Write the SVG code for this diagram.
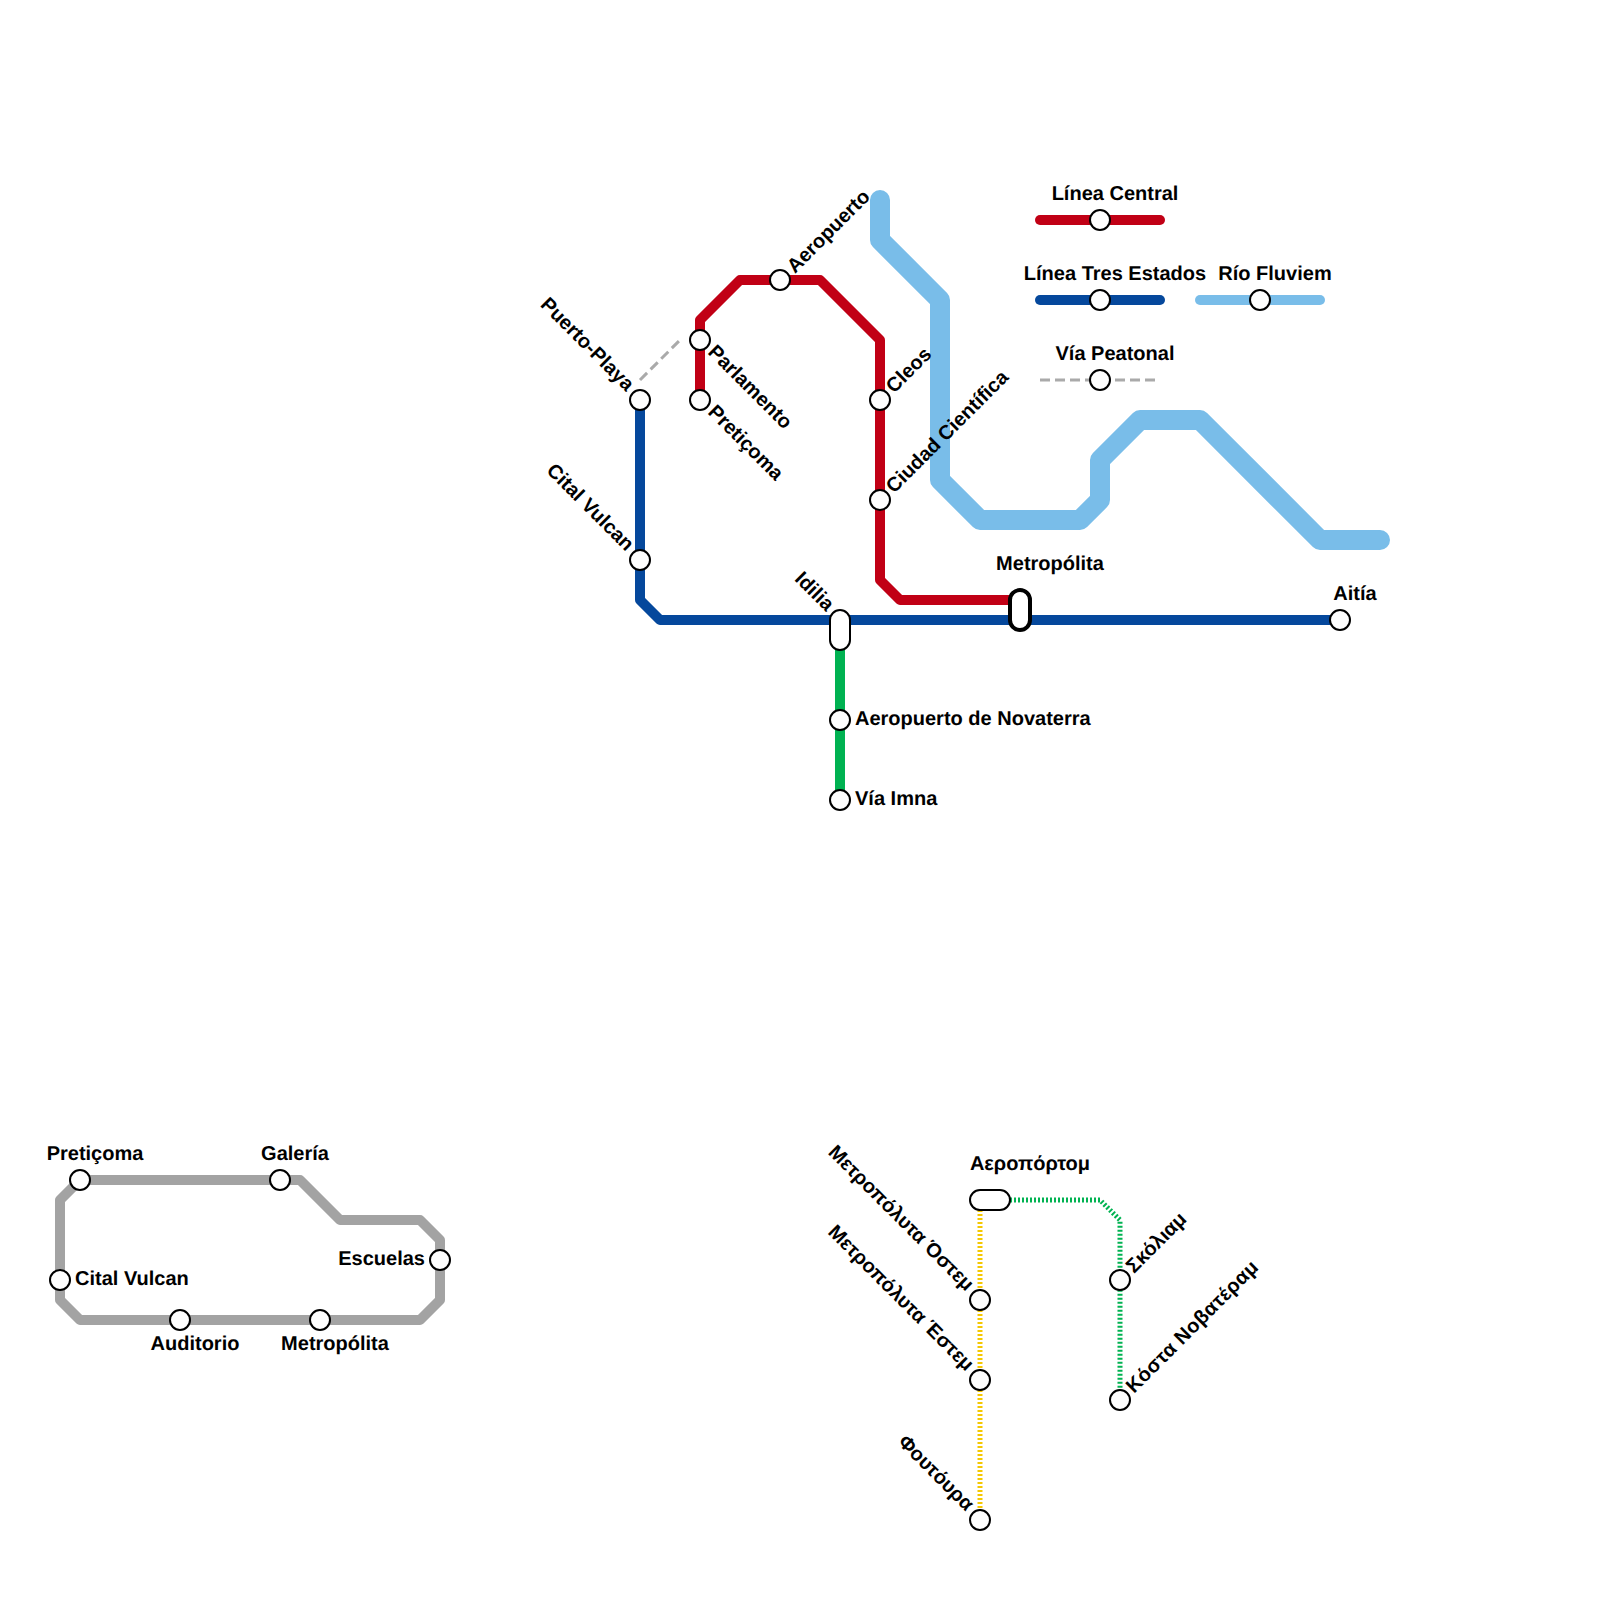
<svg xmlns="http://www.w3.org/2000/svg" width="1600" height="1600" viewBox="0 0 1600 1600">
<style>
.l{fill:none;stroke-linejoin:round}
.c{stroke-linecap:round}
.red{stroke:#c10015;stroke-width:10}
.blue{stroke:#05489c;stroke-width:10}
.green{stroke:#00b251;stroke-width:10}
.river{stroke:#79bde9;stroke-width:20;stroke-linecap:round}
.riverleg{stroke:#79bde9;stroke-width:10}
.grey{stroke:#a3a3a3;stroke-width:10}
.walk{stroke:#aaaaaa;stroke-width:3;stroke-dasharray:10 5}
.dotg{stroke:#00b251;stroke-width:5;stroke-dasharray:2 2}
.doty{stroke:#f5c800;stroke-width:5;stroke-dasharray:2 2}
.s{fill:#fff;stroke:#000;stroke-width:2}
.b{fill:#fff;stroke:#000;stroke-width:4}
text{font-family:"Liberation Sans",Arial,sans-serif;font-weight:bold;font-size:20px;fill:#000;text-rendering:geometricPrecision}
.m{text-anchor:middle}
.e{text-anchor:end}
</style>
<g id="connectors">
<path class="l river" d="M880 200V240L940 300V480L980 520H1080L1100 500V460L1140 420H1200L1320 540H1380"/>
<path class="l red" d="M700 400V320L740 280H820L880 340V580L900 600H1020"/>
<path class="l blue" d="M640 400V600L660 620H1340"/>
<path class="l green" d="M840 640V800"/>
<path class="l walk" d="M640 380L680 340"/>
<path class="l grey" d="M80 1180L60 1200V1300L80 1320H420L440 1300V1240L420 1220H340L300 1180Z"/>
<path class="l doty" d="M980 1210V1520"/>
<path class="l dotg" d="M1010 1200H1100L1120 1220V1400"/>
<path class="l c red" d="M1040 220H1160"/>
<path class="l c blue" d="M1040 300H1160"/>
<path class="l c riverleg" d="M1200 300H1320"/>
<path class="l walk" d="M1040 380H1160"/>
</g>
<g id="n-puerto-playa"><circle class="s" cx="640" cy="400" r="10"/><text class="e" transform="translate(626 392) rotate(45)">Puerto-Playa</text></g>
<g id="n-cital-vulcan"><circle class="s" cx="640" cy="560" r="10"/><text class="e" transform="translate(626 552) rotate(45)">Cital Vulcan</text></g>
<g id="n-parlamento"><circle class="s" cx="700" cy="340" r="10"/><text transform="translate(707 353) rotate(45)">Parlamento</text></g>
<g id="n-preticoma"><circle class="s" cx="700" cy="400" r="10"/><text transform="translate(707 413) rotate(45)">Pretiçoma</text></g>
<g id="n-aeropuerto"><circle class="s" cx="780" cy="280" r="10"/><text transform="translate(795 274) rotate(-45)">Aeropuerto</text></g>
<g id="n-cleos"><circle class="s" cx="880" cy="400" r="10"/><text transform="translate(894 394) rotate(-45)">Cleos</text></g>
<g id="n-ciudad"><circle class="s" cx="880" cy="500" r="10"/><text transform="translate(894 494) rotate(-45)">Ciudad Científica</text></g>
<g id="n-idilia"><rect class="s" x="830" y="610" width="20" height="40" rx="10"/><text class="e" transform="translate(826 612) rotate(45)">Idilia</text></g>
<g id="n-metropolita"><rect class="b" x="1010" y="590" width="20" height="40" rx="10"/><text class="m" x="1050" y="570">Metropólita</text></g>
<g id="n-aitia"><circle class="s" cx="1340" cy="620" r="10"/><text class="m" x="1355" y="600">Aitía</text></g>
<g id="n-novaterra"><circle class="s" cx="840" cy="720" r="10"/><text x="855" y="725">Aeropuerto de Novaterra</text></g>
<g id="n-via-imna"><circle class="s" cx="840" cy="800" r="10"/><text x="855" y="805">Vía Imna</text></g>
<g id="leg-central"><circle class="s" cx="1100" cy="220" r="10"/><text class="m" x="1115" y="200">Línea Central</text></g>
<g id="leg-tres"><circle class="s" cx="1100" cy="300" r="10"/><text class="m" x="1115" y="280">Línea Tres Estados</text></g>
<g id="leg-rio"><circle class="s" cx="1260" cy="300" r="10"/><text class="m" x="1275" y="280">Río Fluviem</text></g>
<g id="leg-via"><circle class="s" cx="1100" cy="380" r="10"/><text class="m" x="1115" y="360">Vía Peatonal</text></g>
<g id="g-preticoma"><circle class="s" cx="80" cy="1180" r="10"/><text class="m" x="95" y="1160">Pretiçoma</text></g>
<g id="g-galeria"><circle class="s" cx="280" cy="1180" r="10"/><text class="m" x="295" y="1160">Galería</text></g>
<g id="g-escuelas"><circle class="s" cx="440" cy="1260" r="10"/><text class="e" x="425" y="1265">Escuelas</text></g>
<g id="g-cital"><circle class="s" cx="60" cy="1280" r="10"/><text x="75" y="1285">Cital Vulcan</text></g>
<g id="g-auditorio"><circle class="s" cx="180" cy="1320" r="10"/><text class="m" x="195" y="1350">Auditorio</text></g>
<g id="g-metropolita"><circle class="s" cx="320" cy="1320" r="10"/><text class="m" x="335" y="1350">Metropólita</text></g>
<g id="gr-aeroportom"><rect class="s" x="970" y="1190" width="40" height="20" rx="10"/><text class="m" x="1030" y="1170">Αεροπόρτομ</text></g>
<g id="gr-ostem"><circle class="s" cx="980" cy="1300" r="10"/><text class="e" transform="translate(966 1292) rotate(45)">Μετροπόλυτα Όστεμ</text></g>
<g id="gr-estem"><circle class="s" cx="980" cy="1380" r="10"/><text class="e" transform="translate(966 1372) rotate(45)">Μετροπόλυτα Έστεμ</text></g>
<g id="gr-foutoura"><circle class="s" cx="980" cy="1520" r="10"/><text class="e" transform="translate(966 1512) rotate(45)">Φουτόυρα</text></g>
<g id="gr-skoliam"><circle class="s" cx="1120" cy="1280" r="10"/><text transform="translate(1134 1274) rotate(-45)">Σκόλιαμ</text></g>
<g id="gr-kosta"><circle class="s" cx="1120" cy="1400" r="10"/><text transform="translate(1134 1394) rotate(-45)" letter-spacing="0.37">Κόστα Νοβατέραμ</text></g>
</svg>
